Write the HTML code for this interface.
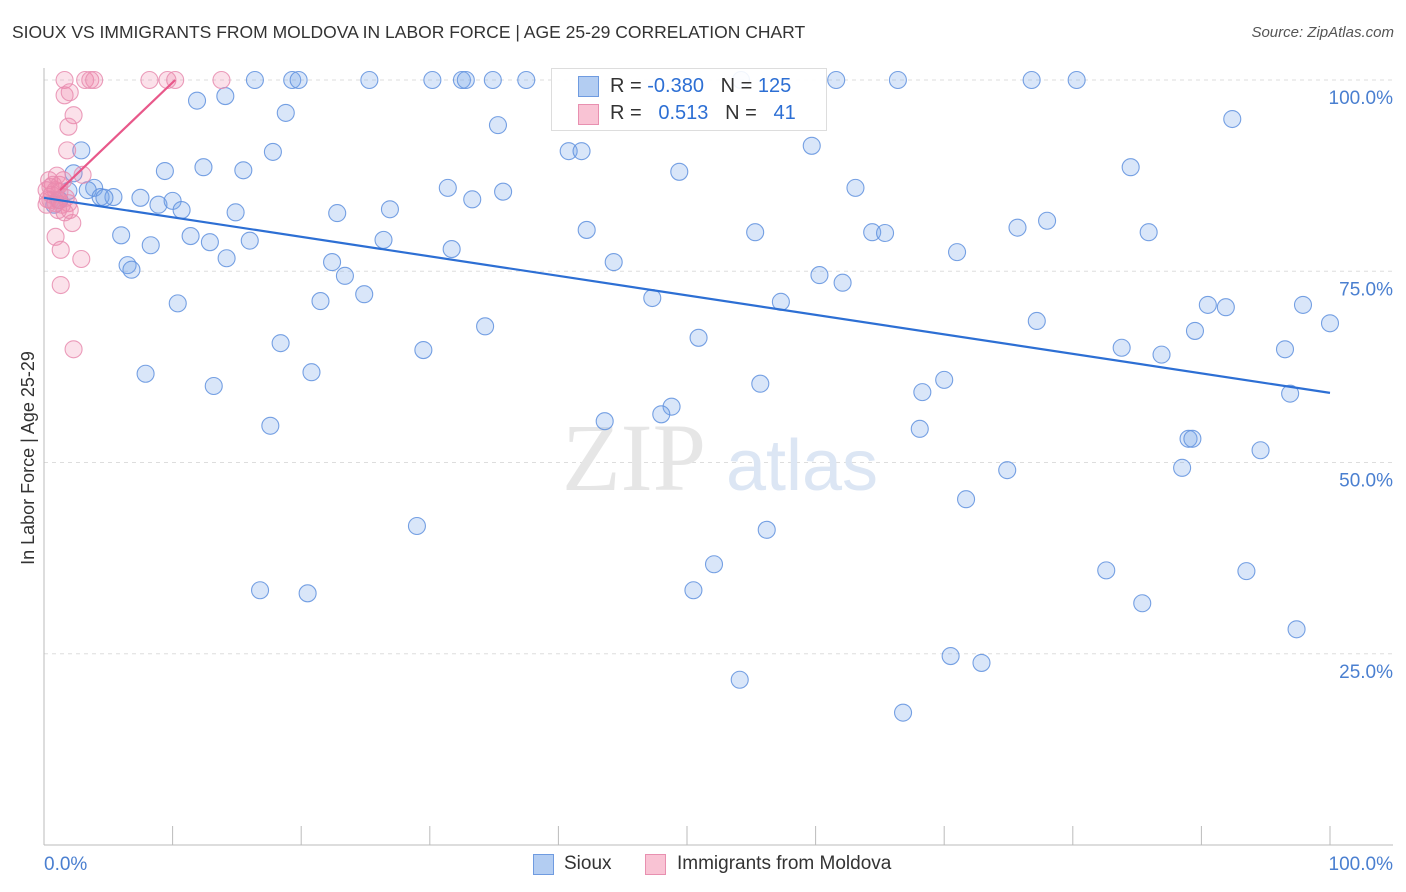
<!DOCTYPE html>
<html><head><meta charset="utf-8"><style>
body{margin:0;background:#fff;font-family:"Liberation Sans",sans-serif}
#wrap{position:relative;width:1406px;height:892px;overflow:hidden}
.t{position:absolute;white-space:nowrap}
</style></head><body>
<div id="wrap">
<div class="t" style="left:12px;top:22px;font-size:17.5px;color:#333">SIOUX VS IMMIGRANTS FROM MOLDOVA IN LABOR FORCE | AGE 25-29 CORRELATION CHART</div>
<div class="t" style="right:12px;top:24px;font-size:15px;color:#555;font-style:italic">Source: ZipAtlas.com</div>
<svg id="svg" width="1406" height="892" style="position:absolute;left:0;top:0"></svg>
</div>
<script>
const blueX=[16.4,19.3,19.8,25.3,30.2,32.5,32.8,34.9,37.5,54.2,61.6,66.4,76.8,80.3,11.9,14.1,18.8,35.3,92.4,2.9,17.8,40.8,41.8,59.7,9.4,12.4,15.5,49.4,84.5,2.3,3.9,1.9,3.4,4.4,5.4,4.7,7.5,8.9,10.0,10.7,31.4,35.7,33.3,63.1,26.9,22.8,14.9,78.0,75.7,6.0,11.4,12.9,16.0,8.3,26.4,31.7,42.2,55.3,64.4,65.4,85.9,71.0,14.2,22.4,6.5,6.8,23.4,44.3,60.3,62.1,24.9,21.5,10.4,47.3,57.3,90.5,91.9,97.9,100,77.2,34.3,50.9,89.5,18.4,29.5,83.8,86.9,96.5,7.9,20.8,13.2,55.7,70.0,68.3,96.9,43.6,48.8,48.0,17.6,68.1,89.0,89.3,94.6,74.9,88.5,71.7,29.0,56.2,52.1,82.6,93.5,16.8,20.5,50.5,85.4,97.4,70.5,72.9,54.1,66.8,0.8,1.2];
const blueY=[100,100,100,100,100,100,100,100,100,100,100,100,100,100,97.3,97.9,95.7,94.1,94.9,90.8,90.6,90.7,90.7,91.4,88.1,88.6,88.2,88.0,88.6,87.8,85.9,85.5,85.6,84.7,84.7,84.6,84.6,83.7,84.2,83.0,85.9,85.4,84.4,85.9,83.1,82.6,82.7,81.6,80.7,79.7,79.6,78.8,79.0,78.4,79.1,77.9,80.4,80.1,80.1,80.0,80.1,77.5,76.7,76.2,75.8,75.2,74.4,76.2,74.5,73.5,72.0,71.1,70.8,71.5,71.0,70.6,70.3,70.6,68.2,68.5,67.8,66.3,67.2,65.6,64.7,65.0,64.1,64.8,61.6,61.8,60.0,60.3,60.8,59.2,59.0,55.4,57.3,56.3,54.8,54.4,53.1,53.1,51.6,49.0,49.3,45.2,41.7,41.2,36.7,35.9,35.8,33.3,32.9,33.3,31.6,28.2,24.7,23.8,21.6,17.3,83.7,84.3];
const pinkX=[1.6,3.2,3.6,3.9,8.2,9.6,10.2,13.8,1.6,2.0,2.3,1.9,1.8,3.0,1.0,0.4,0.5,0.9,1.2,0.6,0.3,0.9,1.4,1.9,1.6,2.2,0.9,1.3,2.9,1.3,2.3,1.1,1.7,0.5,0.7,1.2,0.2,2.0,0.2,1.5,1.1];
const pinkY=[100,100,100,100,100,100,100,100,98.0,98.4,95.4,93.9,90.8,87.6,87.5,86.9,86.0,85.6,85.4,85.0,84.4,83.9,83.7,83.9,82.7,81.3,79.5,77.8,76.6,73.2,64.8,84.3,84.6,84.3,86.3,86.3,85.6,83.0,83.7,86.9,83.0];
const blueTrend=[[0,84.6],[100,59.1]];
const pinkTrend=[[1.24,85.6],[10.2,100]];
const yTicks=[100,75,50,25];
const xTickVals=[0,10,20,30,40,50,60,70,80,90,100];
const NS='http://www.w3.org/2000/svg';
const svg=document.getElementById('svg');
const X=v=>44+v*12.86, Y=v=>845-v*7.65;
function mk(t,a){const e=document.createElementNS(NS,t);for(const k in a)e.setAttribute(k,a[k]);svg.appendChild(e);return e;}
yTicks.forEach(v=>{const l=mk('line',{x1:44,x2:1393,y1:Y(v),y2:Y(v),stroke:'#ddd','stroke-dasharray':'4,4'});


const t=mk('text',{x:1393,y:Y(v)+24,'text-anchor':'end','font-size':19,fill:'#4a7fd0','font-family':'Liberation Sans'});t.textContent=v.toFixed(1)+'%';

});
let ax=mk('line',{x1:44,x2:44,y1:68,y2:845,stroke:'#bbb'});


ax=mk('line',{x1:44,x2:1393,y1:845,y2:845,stroke:'#bbb'});


xTickVals.forEach(v=>{const l=mk('line',{x1:X(v),x2:X(v),y1:826,y2:845,stroke:'#bbb'});

});
[['0.0%',44,'start'],['100.0%',1393,'end']].forEach(a=>{const t=mk('text',{x:a[1],y:870,'text-anchor':a[2],'font-size':19,fill:'#4a7fd0','font-family':'Liberation Sans'});t.textContent=a[0];

});
const yt=mk('text',{transform:'translate(34,458) rotate(-90)','text-anchor':'middle','font-size':18,fill:'#333','font-family':'Liberation Sans'});yt.textContent='In Labor Force | Age 25-29';


const w1=mk('text',{x:634,y:490,'text-anchor':'middle','font-size':96,fill:'#e6e6e6','font-family':'Liberation Serif'});w1.textContent='ZIP';


const w2=mk('text',{x:802,y:490,'text-anchor':'middle','font-size':72,fill:'#dce6f4','font-family':'Liberation Sans'});w2.textContent='atlas';


blueX.forEach((v,i)=>{const c=mk('circle',{cx:X(v),cy:Y(blueY[i]),r:8.5,fill:'rgba(120,165,232,0.28)',stroke:'rgba(95,145,222,0.85)','stroke-width':1.1});

});
pinkX.forEach((v,i)=>{const c=mk('circle',{cx:X(v),cy:Y(pinkY[i]),r:8.5,fill:'rgba(240,135,172,0.25)',stroke:'rgba(232,140,175,0.85)','stroke-width':1.1});

});
let tl=mk('line',{x1:X(blueTrend[0][0]),y1:Y(blueTrend[0][1]),x2:X(blueTrend[1][0]),y2:Y(blueTrend[1][1]),stroke:'#2d6fd4','stroke-width':2.2});


tl=mk('line',{x1:X(pinkTrend[0][0]),y1:Y(pinkTrend[0][1]),x2:X(pinkTrend[1][0]),y2:Y(pinkTrend[1][1]),stroke:'#e8588a','stroke-width':2.2});


</script>
<div class="t" style="left:551px;top:68px;width:274px;height:61px;border:1px solid #ddd;background:rgba(255,255,255,0.9);font-size:20px">
 <div style="position:absolute;left:26px;top:7px;width:19px;height:19px;background:#b3cdf2;border:1px solid #6f9be0"></div>
 <div class="t" style="left:58px;top:6px;color:#333">R = <span style="color:#2d6fd4">-0.380</span>&nbsp;&nbsp;&nbsp;N = <span style="color:#2d6fd4">125</span></div>
 <div style="position:absolute;left:26px;top:35px;width:19px;height:19px;background:#f9c3d4;border:1px solid #e890b0"></div>
 <div class="t" style="left:58px;top:33px;color:#333">R = &nbsp;&nbsp;<span style="color:#2d6fd4">0.513</span>&nbsp;&nbsp;&nbsp;N = &nbsp;&nbsp;<span style="color:#2d6fd4">41</span></div>
</div>
<div>
 <div style="position:absolute;left:533px;top:854px;width:19px;height:19px;background:#b3cdf2;border:1px solid #6f9be0"></div>
 <div class="t" style="left:564px;top:853px;font-size:19px;color:#333">Sioux</div>
</div>
<div>
 <div style="position:absolute;left:645px;top:854px;width:19px;height:19px;background:#f9c3d4;border:1px solid #e890b0"></div>
 <div class="t" style="left:677px;top:853px;font-size:19px;color:#333">Immigrants from Moldova</div>
</div>
</body></html>
